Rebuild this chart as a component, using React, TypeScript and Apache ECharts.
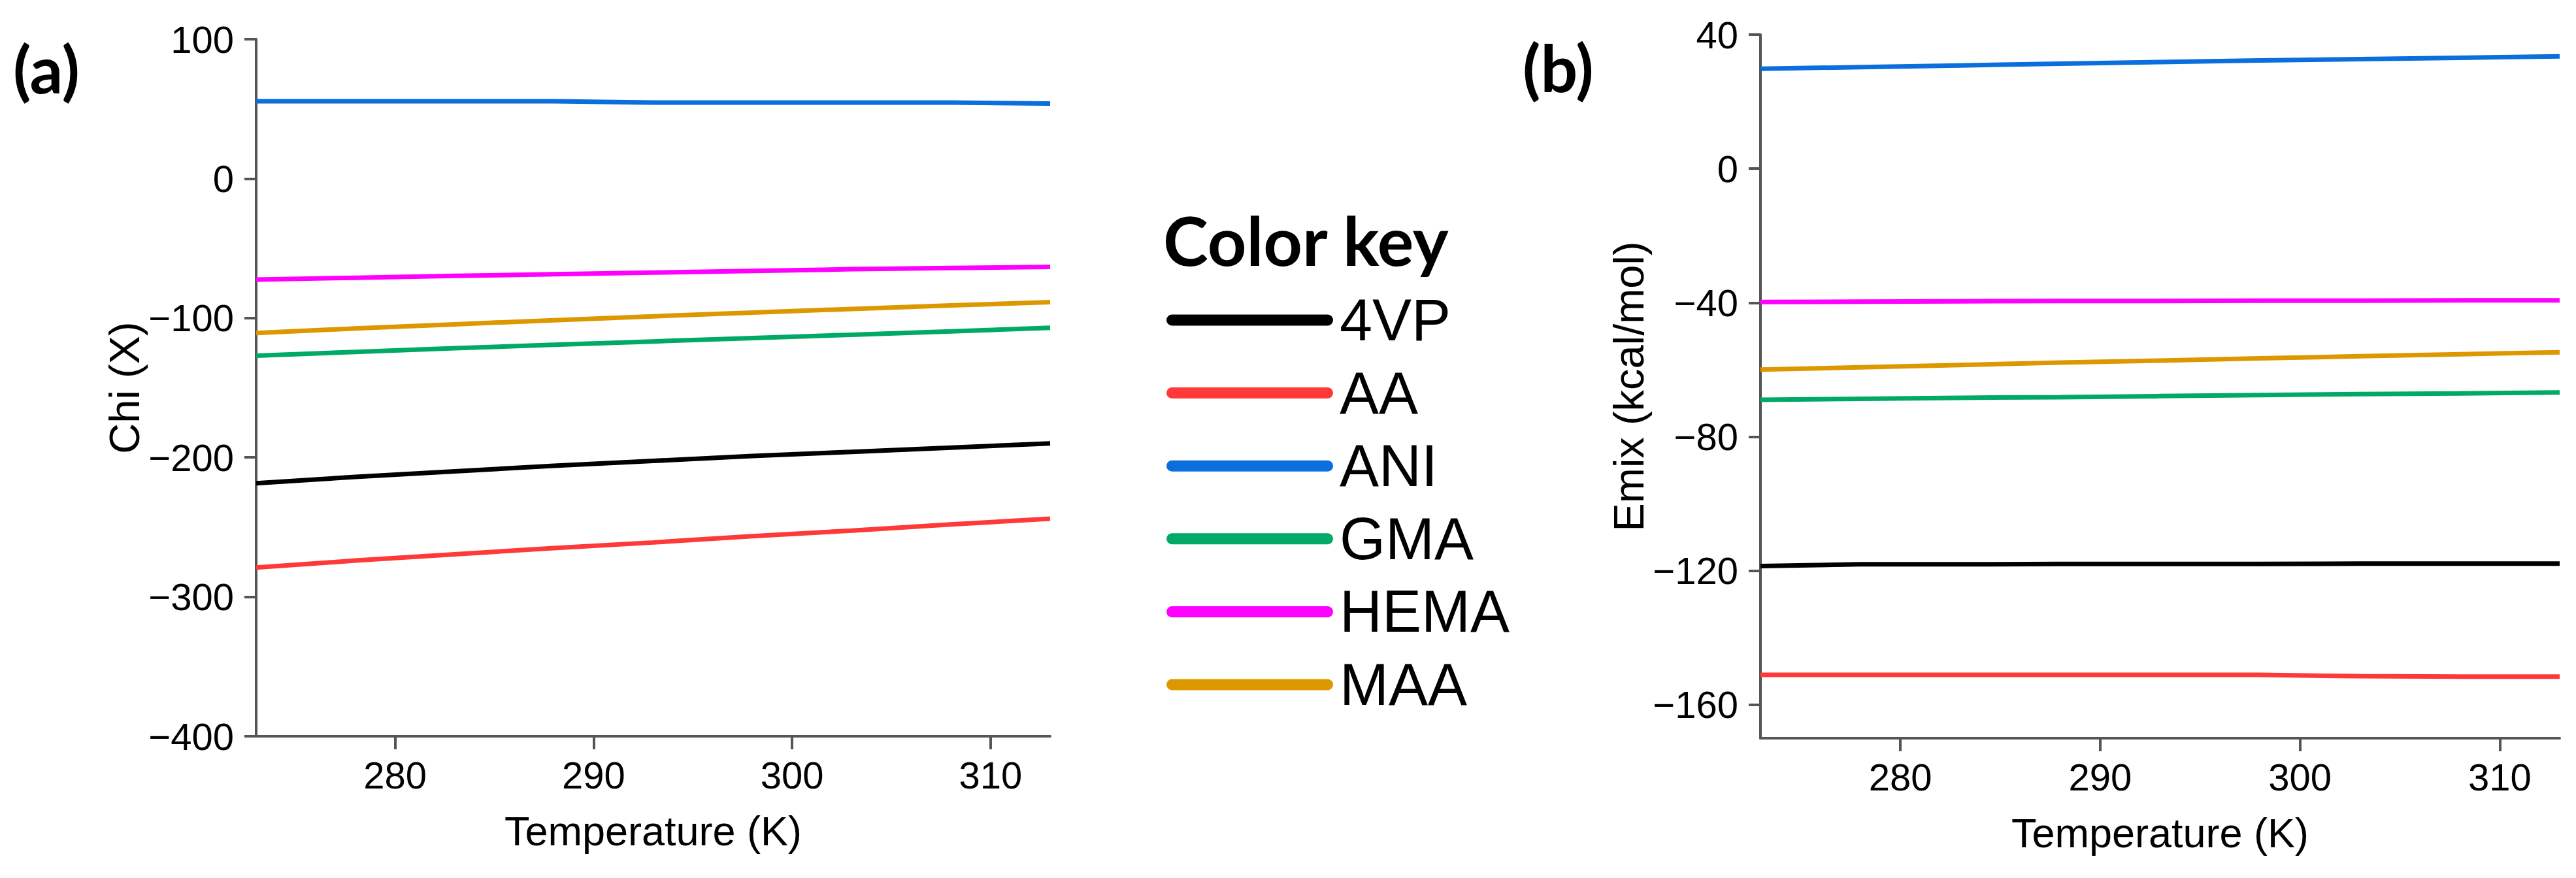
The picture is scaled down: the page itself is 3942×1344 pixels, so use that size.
import React, { useEffect, useRef } from 'react';
import * as echarts from 'echarts';

// ---- data ----
const temps = [273, 278, 283, 288, 293, 298, 303, 308, 313];
const seriesNames = ['4VP', 'AA', 'ANI', 'GMA', 'HEMA', 'MAA'];
const seriesColors = ['#000000', '#ff3838', '#0a6fdc', '#00aa66', '#ff00ff', '#dd9800'];

// (a) Chi
const chi4VP = [-218.5, -214, -210, -206, -202.5, -199, -196, -193, -190];
const chiAA = [-279, -274, -269.5, -265, -261, -256.5, -252.5, -248, -244];
const chiANI = [55.5, 55.5, 55.5, 55.5, 54.6, 54.6, 54.6, 54.6, 53.8];
const chiGMA = [-127, -124.3, -121.7, -119.2, -116.8, -114.4, -112, -109.6, -107];
const chiHEMA = [-72.5, -71.1, -69.8, -68.6, -67.4, -66.2, -65, -64.1, -63.3];
const chiMAA = [-110.7, -107.5, -104.5, -101.6, -98.8, -96.1, -93.5, -91, -88.6];

// (b) Emix
const emix4VP = [-118.6, -118.1, -118.1, -118.0, -118.0, -118.0, -117.9, -117.9, -117.9];
const emixAA = [-151.1, -151.1, -151.1, -151.1, -151.1, -151.1, -151.5, -151.6, -151.6];
const emixANI = [29.8, 30.3, 30.8, 31.3, 31.8, 32.3, 32.7, 33.1, 33.5];
const emixGMA = [-69, -68.7, -68.4, -68.2, -67.9, -67.6, -67.3, -67.1, -66.8];
const emixHEMA = [-39.8, -39.7, -39.6, -39.5, -39.5, -39.4, -39.4, -39.3, -39.3];
const emixMAA = [-60, -59.3, -58.6, -57.9, -57.3, -56.6, -56, -55.4, -54.8];

const chiData = [chi4VP, chiAA, chiANI, chiGMA, chiHEMA, chiMAA];
const emixData = [emix4VP, emixAA, emixANI, emixGMA, emixHEMA, emixMAA];

const xTicks = [280, 290, 300, 310];
const chiTicks = [-400, -300, -200, -100, 0, 100];
const emixTicks = [-160, -120, -80, -40, 0, 40];

const SANS = "'Liberation Sans', Arial, sans-serif";
const NARROW = "'Liberation Sans Narrow', 'Arial Narrow', 'Liberation Sans', sans-serif";
const BOLD = "Lato, 'Open Sans', sans-serif";
const AXIS_COLOR = '#555555';

const fmt = (v: number) => String(v).replace('-', '\u2212');

function xAxisCfg(gridIndex: number) {
  return {
    type: 'value',
    gridIndex,
    min: 273,
    max: 313,
    name: 'Temperature (K)',
    nameLocation: 'middle',
    nameGap: 113,
    nameTextStyle: { fontSize: 63, fontFamily: SANS, color: '#000' },
    axisLine: { show: true, onZero: false, lineStyle: { color: AXIS_COLOR, width: 4 } },
    axisTick: { show: true, length: 20, customValues: xTicks, lineStyle: { color: AXIS_COLOR, width: 4 } },
    axisLabel: { customValues: xTicks, margin: 30, fontSize: 58, fontFamily: NARROW, color: '#000', formatter: fmt },
    splitLine: { show: false },
  };
}

function yAxisCfg(gridIndex: number, name: string, min: number, max: number, ticks: number[], gap: number) {
  return {
    type: 'value',
    gridIndex,
    min,
    max,
    name,
    nameLocation: 'middle',
    nameRotate: 90,
    nameGap: gap,
    nameTextStyle: { fontSize: 65, fontFamily: SANS, color: '#000' },
    axisLine: { show: true, onZero: false, lineStyle: { color: AXIS_COLOR, width: 4 } },
    axisTick: { show: true, length: 18, customValues: ticks, lineStyle: { color: AXIS_COLOR, width: 4 } },
    axisLabel: { customValues: ticks, margin: 34, fontSize: 58, fontFamily: NARROW, color: '#000', formatter: fmt },
    splitLine: { show: false },
  };
}

const capsule = 'path://M8.5 0H246.5A8.5 8.5 0 0 1 246.5 17H8.5A8.5 8.5 0 0 1 8.5 0Z';

function buildOption() {
  const series: any[] = [];
  seriesNames.forEach((name, i) => {
    series.push({
      name,
      type: 'line',
      xAxisIndex: 0,
      yAxisIndex: 0,
      data: temps.map((t, k) => [t, chiData[i][k]]),
      symbol: 'none',
      showSymbol: false,
      color: seriesColors[i],
      lineStyle: { width: 7, color: seriesColors[i] },
    });
    series.push({
      name,
      type: 'line',
      xAxisIndex: 1,
      yAxisIndex: 1,
      data: temps.map((t, k) => [t, emixData[i][k]]),
      symbol: 'none',
      showSymbol: false,
      color: seriesColors[i],
      lineStyle: { width: 7, color: seriesColors[i] },
    });
  });

  return {
    animation: false,
    backgroundColor: '#ffffff',
    grid: [
      { left: 392, top: 60, width: 1215, height: 1067, containLabel: false },
      { left: 2694, top: 53, width: 1223, height: 1077, containLabel: false },
    ],
    xAxis: [xAxisCfg(0), xAxisCfg(1)],
    yAxis: [
      yAxisCfg(0, 'Chi (X)', -400, 100, chiTicks, 145),
      yAxisCfg(1, 'Emix (kcal/mol)', -170, 40, emixTicks, 128),
    ],
    legend: {
      orient: 'vertical',
      left: 1785,
      top: 445,
      padding: 0,
      itemWidth: 255,
      itemHeight: 17,
      itemGap: 21.6,
      icon: capsule,
      selectedMode: false,
      data: seriesNames,
      textStyle: { fontSize: 90, fontFamily: SANS, color: '#000', padding: [0, 0, 0, 5] },
    },
    graphic: [
      {
        type: 'text',
        x: 20,
        y: 104,
        style: { text: '(a)', fontSize: 100, fontWeight: 'bold', fontFamily: BOLD, fill: '#000', verticalAlign: 'middle' },
      },
      {
        type: 'text',
        x: 2330,
        y: 102,
        style: { text: '(b)', fontSize: 100, fontWeight: 'bold', fontFamily: BOLD, fill: '#000', verticalAlign: 'middle' },
      },
      {
        type: 'text',
        x: 1780,
        y: 366,
        style: { text: 'Color key', fontSize: 104, fontWeight: 'bold', fontFamily: BOLD, fill: '#000', verticalAlign: 'middle' },
      },
    ],
    series,
  };
}

export default function App() {
  const ref = useRef<HTMLDivElement>(null);
  useEffect(() => {
    if (!ref.current) return;
    const chart = echarts.init(ref.current, null, { renderer: 'svg' });
    chart.setOption(buildOption() as any);
    return () => chart.dispose();
  }, []);
  return (
    <div
      ref={ref}
      style={{ position: 'absolute', left: 0, top: 0, width: 3942, height: 1344, background: '#ffffff' }}
    />
  );
}
